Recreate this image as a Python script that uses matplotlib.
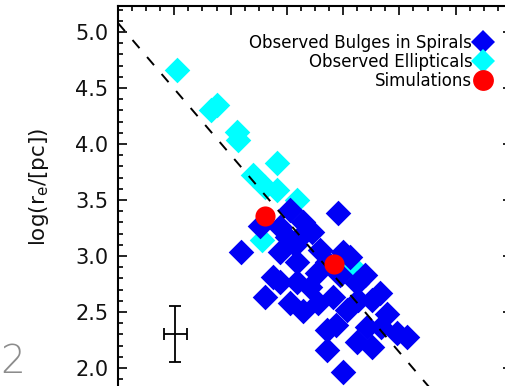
import matplotlib
matplotlib.use("Agg")
import matplotlib.pyplot as plt
from matplotlib.ticker import MultipleLocator
from matplotlib.lines import Line2D

# ---- data ----
ell_x = [8.52, 8.83, 8.88, 9.06, 9.07, 9.20, 9.31, 9.41, 9.41, 9.59, 9.28, 10.08]
ell_y = [4.66, 4.30, 4.35, 4.11, 4.04, 3.72, 3.62, 3.59, 3.83, 3.50, 3.14, 2.91]

bul_x = [9.95, 9.09, 9.26, 9.53, 9.64, 9.44, 9.50, 9.62, 9.72, 9.44, 9.79, 9.59,
         9.38, 9.77, 10.06, 10.00, 9.31, 9.53, 9.64, 9.44, 9.59, 9.71, 9.91, 9.86,
         9.94, 9.86, 10.12, 10.26, 10.34, 10.39, 10.26, 10.00, 10.12, 10.33, 10.48,
         10.57, 10.21, 9.78, 10.19, 9.86, 9.57, 9.97, 10.03, 10.13]
bul_y = [3.38, 3.04, 3.27, 3.41, 3.30, 3.26, 3.17, 3.17, 3.21, 3.04, 3.05, 2.95,
         2.81, 2.85, 2.99, 3.04, 2.63, 2.58, 2.51, 2.77, 2.77, 2.72, 2.63, 2.34,
         2.38, 2.16, 2.23, 2.19, 2.37, 2.48, 2.61, 1.96, 2.76, 2.67, 2.31,
         2.28, 2.37, 2.58, 2.83, 2.95, 3.10, 2.83, 2.52, 2.61]

sim_x = [9.31, 9.92]
sim_y = [3.36, 2.93]

# fit line: log r_e = a + b * (x - x0)
line_x = [8.0, 11.5]
line_a, line_b, line_x0 = 5.08, -1.176, 8.0

# typical error bar
err_x, err_y, err_dx, err_dy = 8.51, 2.30, 0.10, 0.25

labels = ["Observed Bulges in Spirals", "Observed Ellipticals", "Simulations"]
ylabel = r"log(r$_{\rm e}$/[pc])"
yticks = [2.0, 2.5, 3.0, 3.5, 4.0, 4.5, 5.0]

# ---- figure ----
W, H = 506, 386
fig = plt.figure(figsize=(W / 100, H / 100), dpi=100)
# axes in pixel coordinates: left 118, right 512, top 6, bottom 396
L, R, T, B = 118, 512, 6, 396
ax = fig.add_axes([L / W, (H - B) / H, (R - L) / W, (B - T) / H])

ax.set_xlim(8.0, 11.5)
ax.set_ylim(1.75, 5.232)

ax.scatter(ell_x, ell_y, marker="D", s=170, color="#00ffff", linewidths=0, zorder=2)
ax.scatter(bul_x, bul_y, marker="D", s=170, color="#0000f5", linewidths=0, zorder=3)

ly = [line_a + line_b * (v - line_x0) for v in line_x]
ax.plot(line_x, ly, color="black", lw=1.4, linestyle=(0, (5.5, 6)), zorder=4)

ax.scatter(sim_x, sim_y, marker="o", s=210, color="#ff0000", linewidths=0, zorder=5)

ax.errorbar([err_x], [err_y], xerr=[err_dx], yerr=[err_dy], fmt="none",
            ecolor="black", elinewidth=1.3, capsize=4.0, capthick=1.3, zorder=4)

# ticks
ax.xaxis.set_major_locator(MultipleLocator(0.5))
ax.xaxis.set_minor_locator(MultipleLocator(0.125))
ax.set_yticks(yticks)
ax.yaxis.set_minor_locator(MultipleLocator(0.1))
ax.tick_params(which="both", direction="in", top=True, right=True,
               labelbottom=False, width=1.2, color="black")
ax.tick_params(which="major", length=6.5)
ax.tick_params(which="minor", length=3.6)
ax.tick_params(axis="y", which="major", labelsize=15, pad=7, labelcolor="#111111")
for s in ax.spines.values():
    s.set_linewidth(1.5)

fig.text(39 / W, 1 - 187 / H, ylabel, rotation=90, ha="center", va="center",
         fontsize=15.5, color="#111111")

# legend (text left of marker, right aligned)
handles = [
    Line2D([], [], marker="D", linestyle="none", color="#0000f5", markersize=12, markeredgewidth=0),
    Line2D([], [], marker="D", linestyle="none", color="#00ffff", markersize=12, markeredgewidth=0),
    Line2D([], [], marker="o", linestyle="none", color="#ff0000", markersize=15, markeredgewidth=0),
]
leg = ax.legend(handles, labels, loc="upper right", bbox_to_anchor=(0.948, 0.928),
                markerfirst=False, frameon=False, fontsize=12, borderpad=0,
                handlelength=1.0, handletextpad=0.15, labelspacing=0.05,
                borderaxespad=0)

# stray slide number at lower left
fig.text(0.5 / W, 1 - 373 / H, "2", ha="left", va="baseline", fontsize=28,
         color="#8c8c8c", fontweight="light")

fig.savefig("out.png", dpi=100)
